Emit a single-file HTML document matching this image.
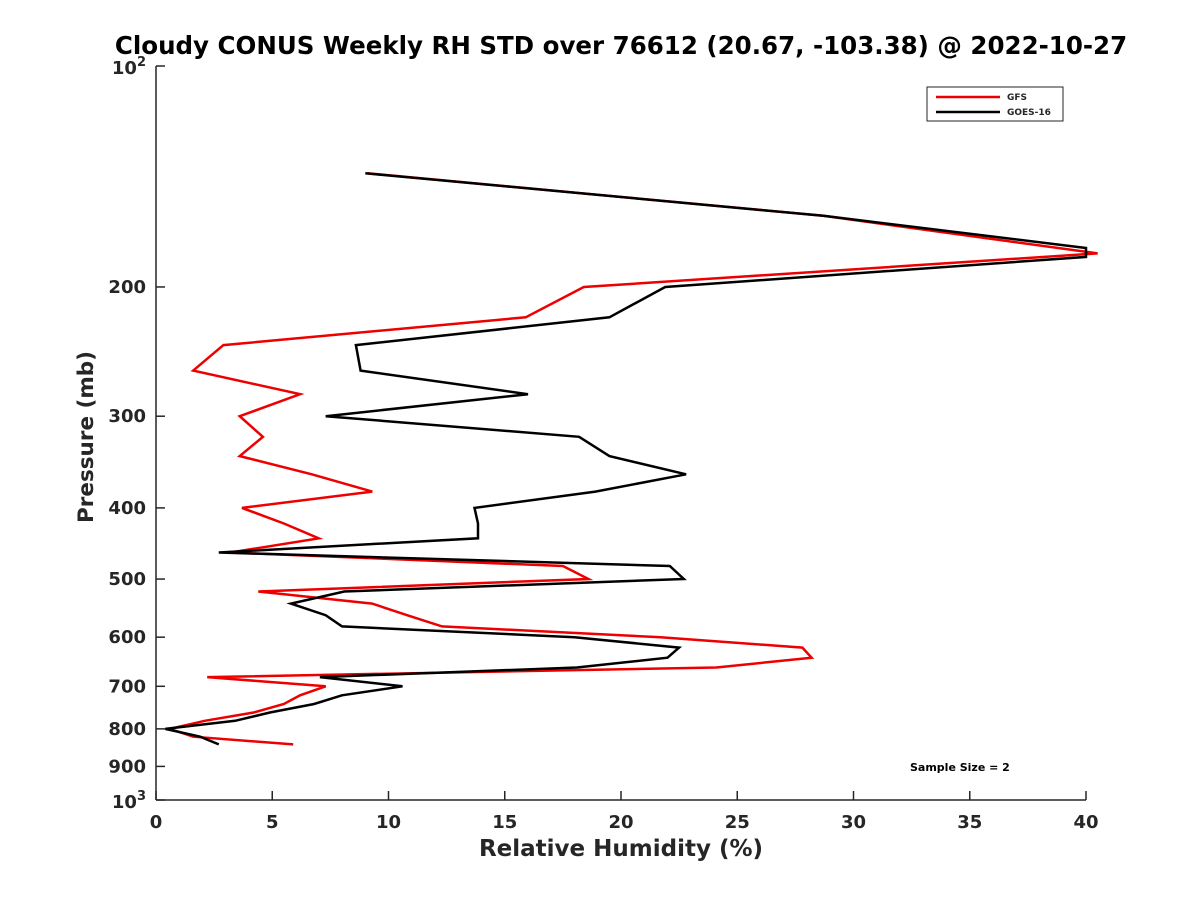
<!DOCTYPE html>
<html><head><meta charset="utf-8"><style>
body{margin:0;background:#fff}
svg text{font-family:"DejaVu Sans","Liberation Sans",sans-serif;font-weight:bold;fill:#262626}
</style></head><body>
<svg id="chart" width="1200" height="900" viewBox="0 0 1200 900" xmlns="http://www.w3.org/2000/svg">
<rect width="1200" height="900" fill="#fff"/>
<text x="621" y="54" text-anchor="middle" font-size="24.5" style="fill:#000">Cloudy CONUS Weekly RH STD over 76612 (20.67, -103.38) @ 2022-10-27</text>
<g id="axes"></g>
<g id="series"></g>
<g>
<rect x="927" y="87" width="136" height="34" fill="#fff" stroke="#262626" stroke-width="1"/>
<line x1="936" y1="97" x2="1000" y2="97" stroke="#e00" stroke-width="2.5"/>
<text x="1007" y="100" font-size="9">GFS</text>
<line x1="936" y1="112" x2="1000" y2="112" stroke="#000" stroke-width="2.5"/>
<text x="1007" y="115" font-size="9">GOES-16</text>
</g>
<text x="910" y="771" font-size="11" style="fill:#000">Sample Size = 2</text>
<text x="621" y="856" text-anchor="middle" font-size="23">Relative Humidity (%)</text>
<text transform="translate(93,437) rotate(-90)" text-anchor="middle" font-size="21.5">Pressure (mb)</text>
</svg>
<script>
const gfsLevels=[140,160,180,200,220,240,260,280,300,320,340,360,380,400,420,440,460,480,500,520,540,560,580,600,620,640,660,680,700,720,740,760,780,800,820,840];
const goesLevels=[140,160,177,182,200,220,240,260,280,300,320,340,360,380,400,420,440,460,480,500,520,540,560,580,600,620,640,660,680,700,720,740,760,780,800,820,840];
const gfsValues=[9.1,28.7,40.5,18.4,15.9,2.9,1.6,6.2,3.6,4.6,3.6,6.7,9.3,3.7,5.5,7.0,3.2,17.5,18.6,4.4,9.3,10.8,12.3,21.7,27.8,28.2,24.1,2.2,7.3,6.2,5.5,4.2,2.1,0.6,1.6,5.9];
const goesValues=[9.0,28.7,40.0,40.0,21.9,19.5,8.6,8.8,16.0,7.3,18.2,19.5,22.8,18.9,13.7,13.85,13.85,2.7,22.1,22.7,8.1,5.8,7.3,8.0,18.0,22.5,22.0,18.1,7.05,10.6,8.0,6.8,4.9,3.4,0.4,1.9,2.7];
const xTicks=[0,5,10,15,20,25,30,35,40];
const yTicks=[200,300,400,500,600,700,800,900];

const NS="http://www.w3.org/2000/svg";
const X0=156,X1=1086,Y0=66,Y1=800;
const xs=v=>X0+(v/40)*(X1-X0);
const ys=p=>Y0+Math.log10(p/100)*(Y1-Y0);
function mk(tag,attrs,parent){const e=document.createElementNS(NS,tag);for(const k in attrs)e.setAttribute(k,attrs[k]);parent.appendChild(e);return e;}
const ax=document.getElementById('axes');
let l=mk('line',{x1:X0,y1:Y0,x2:X0,y2:Y1,stroke:'#262626','stroke-width':1.5},ax);


l=mk('line',{x1:X0,y1:Y1,x2:X1,y2:Y1,stroke:'#262626','stroke-width':1.5},ax);


xTicks.forEach(t=>{
  mk('line',{x1:xs(t),y1:Y1,x2:xs(t),y2:Y1-9,stroke:'#262626','stroke-width':1.5},ax);
  const tx=mk('text',{x:xs(t),y:Y1+28,'text-anchor':'middle','font-size':18},ax);
  tx.textContent=t;
  
  
});
yTicks.forEach(t=>{
  mk('line',{x1:X0,y1:ys(t),x2:X0+9,y2:ys(t),stroke:'#262626','stroke-width':1.5},ax);
  const tx=mk('text',{x:X0-10,y:ys(t)+6,'text-anchor':'end','font-size':18},ax);
  tx.textContent=t;
  
  
});
[[100,'2'],[1000,'3']].forEach(([p,e])=>{
  mk('line',{x1:X0,y1:ys(p),x2:X0+9,y2:ys(p),stroke:'#262626','stroke-width':1.5},ax);
  const tx=mk('text',{x:X0-10,y:ys(p)+8,'text-anchor':'end','font-size':18},ax);
  tx.innerHTML='10<tspan dy="-8" font-size="13">'+e+'</tspan>';
  
  
});
const sg=document.getElementById('series');
function line(levels,vals,color,name){
  const d=vals.map((v,i)=>(i?'L':'M')+xs(v).toFixed(1)+','+ys(levels[i]).toFixed(1)).join(' ');
  const p=mk('path',{d:d,fill:'none',stroke:color,'stroke-width':2.5,'stroke-linejoin':'miter'},sg);
  
  
}
line(gfsLevels,gfsValues,'#e00','gfs-line');
line(goesLevels,goesValues,'#000','goes16-line');
</script>
</body></html>
